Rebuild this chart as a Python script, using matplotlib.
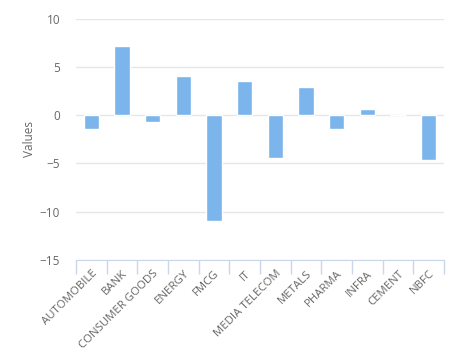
import matplotlib.pyplot as plt
import numpy as np

categories = ["AUTOMOBILE", "BANK", "CONSUMER GOODS", "ENERGY", "FMCG", "IT",
              "MEDIA TELECOM", "METALS", "PHARMA", "INFRA", "CEMENT", "NBFC"]
values = [-1.4, 7.2, -0.75, 4.0, -11.0, 3.5, -4.4, 2.95, -1.4, 0.6, 0.0, -4.6]
y_ticks = [-15, -10, -5, 0, 5, 10]

plt.rcParams["font.family"] = ["Open Sans", "DejaVu Sans"]

fig = plt.figure(figsize=(4.71, 3.53), dpi=100)
ax = fig.add_axes([76 / 471, 1 - 260 / 353, 368 / 471, 241.5 / 353])

x = np.arange(len(categories))
ax.bar(x, values, width=0.5, color="#7cb5ec", edgecolor="white", linewidth=1, zorder=2)

ax.set_xlim(-0.5, len(categories) - 0.5)
ax.set_ylim(-15, 10)
ax.set_yticks(y_ticks)
ax.yaxis.grid(True, color="#e6e6e6", linewidth=1, zorder=0)
ax.set_axisbelow(True)

for side in ["top", "right", "left"]:
    ax.spines[side].set_visible(False)
ax.spines["bottom"].set_color("#ccd6eb")
ax.spines["bottom"].set_position(("data", -15))

# labels at category centres, tick marks at category boundaries
ax.set_xticks(x)
ax.set_xticklabels(categories, rotation=45, ha="right", rotation_mode="anchor",
                   fontsize=8.2, color="#666666")
ax.set_xticks(np.arange(-0.5, len(categories)), minor=True)
ax.tick_params(axis="x", which="major", length=0, pad=6)
ax.tick_params(axis="x", which="minor", length=10, color="#ccd6eb", width=1)
ax.tick_params(axis="y", length=0, labelsize=8.5, labelcolor="#666666", pad=11.5)

ax.set_ylabel("Values", fontsize=8.5, color="#666666")
ax.yaxis.set_label_coords(-0.11, 0.5)

fig.savefig("out.png", dpi=100)
